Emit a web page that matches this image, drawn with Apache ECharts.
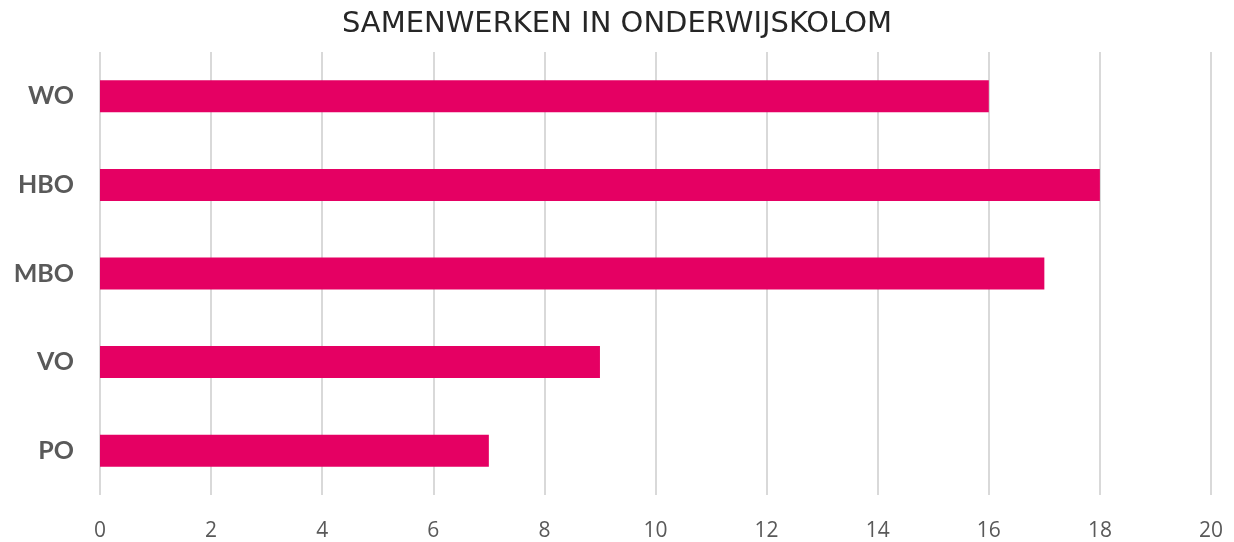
<!DOCTYPE html>
<html>
<head>
<meta charset="utf-8">
<script src="https://cdn.jsdelivr.net/npm/echarts@6/dist/echarts.min.js"></script>
<style>
  html, body { margin: 0; padding: 0; background: #fff; }
  #chart { width: 1234px; height: 542px; }
</style>
</head>
<body>
<div id="chart"></div>
<script>
'use strict';

var categories = ['PO', 'VO', 'MBO', 'HBO', 'WO'];
var values = [7, 9, 17, 18, 16];
var xTicks = [0, 2, 4, 6, 8, 10, 12, 14, 16, 18, 20];

var chart = echarts.init(document.getElementById('chart'));

var option = {
  animation: false,
  title: {
    text: 'SAMENWERKEN IN ONDERWIJSKOLOM',
    left: 'center',
    top: 5,
    textStyle: {
      fontFamily: 'DejaVu Sans',
      fontWeight: 'normal',
      fontSize: 29,
      color: '#262626'
    }
  },
  grid: {
    left: 100,
    right: 23,
    top: 52,
    bottom: 45
  },
  xAxis: {
    type: 'value',
    min: xTicks[0],
    max: xTicks[xTicks.length - 1],
    interval: 2,
    axisLine: { show: false },
    axisTick: { show: false },
    axisLabel: {
      margin: 26,
      fontFamily: 'Open Sans',
      fontSize: 21,
      color: '#595959'
    },
    splitLine: {
      lineStyle: { color: '#d9d9d9', width: 2 }
    }
  },
  yAxis: {
    type: 'category',
    data: categories,
    axisLine: { show: false },
    axisTick: { show: false },
    axisLabel: {
      margin: 26,
      fontFamily: 'Lato',
      fontWeight: 'bold',
      fontSize: 25,
      color: '#595959'
    }
  },
  series: [{
    type: 'bar',
    data: values,
    barWidth: 32,
    itemStyle: { color: '#e50063' }
  }]
};

chart.setOption(option);
</script>
</body>
</html>
